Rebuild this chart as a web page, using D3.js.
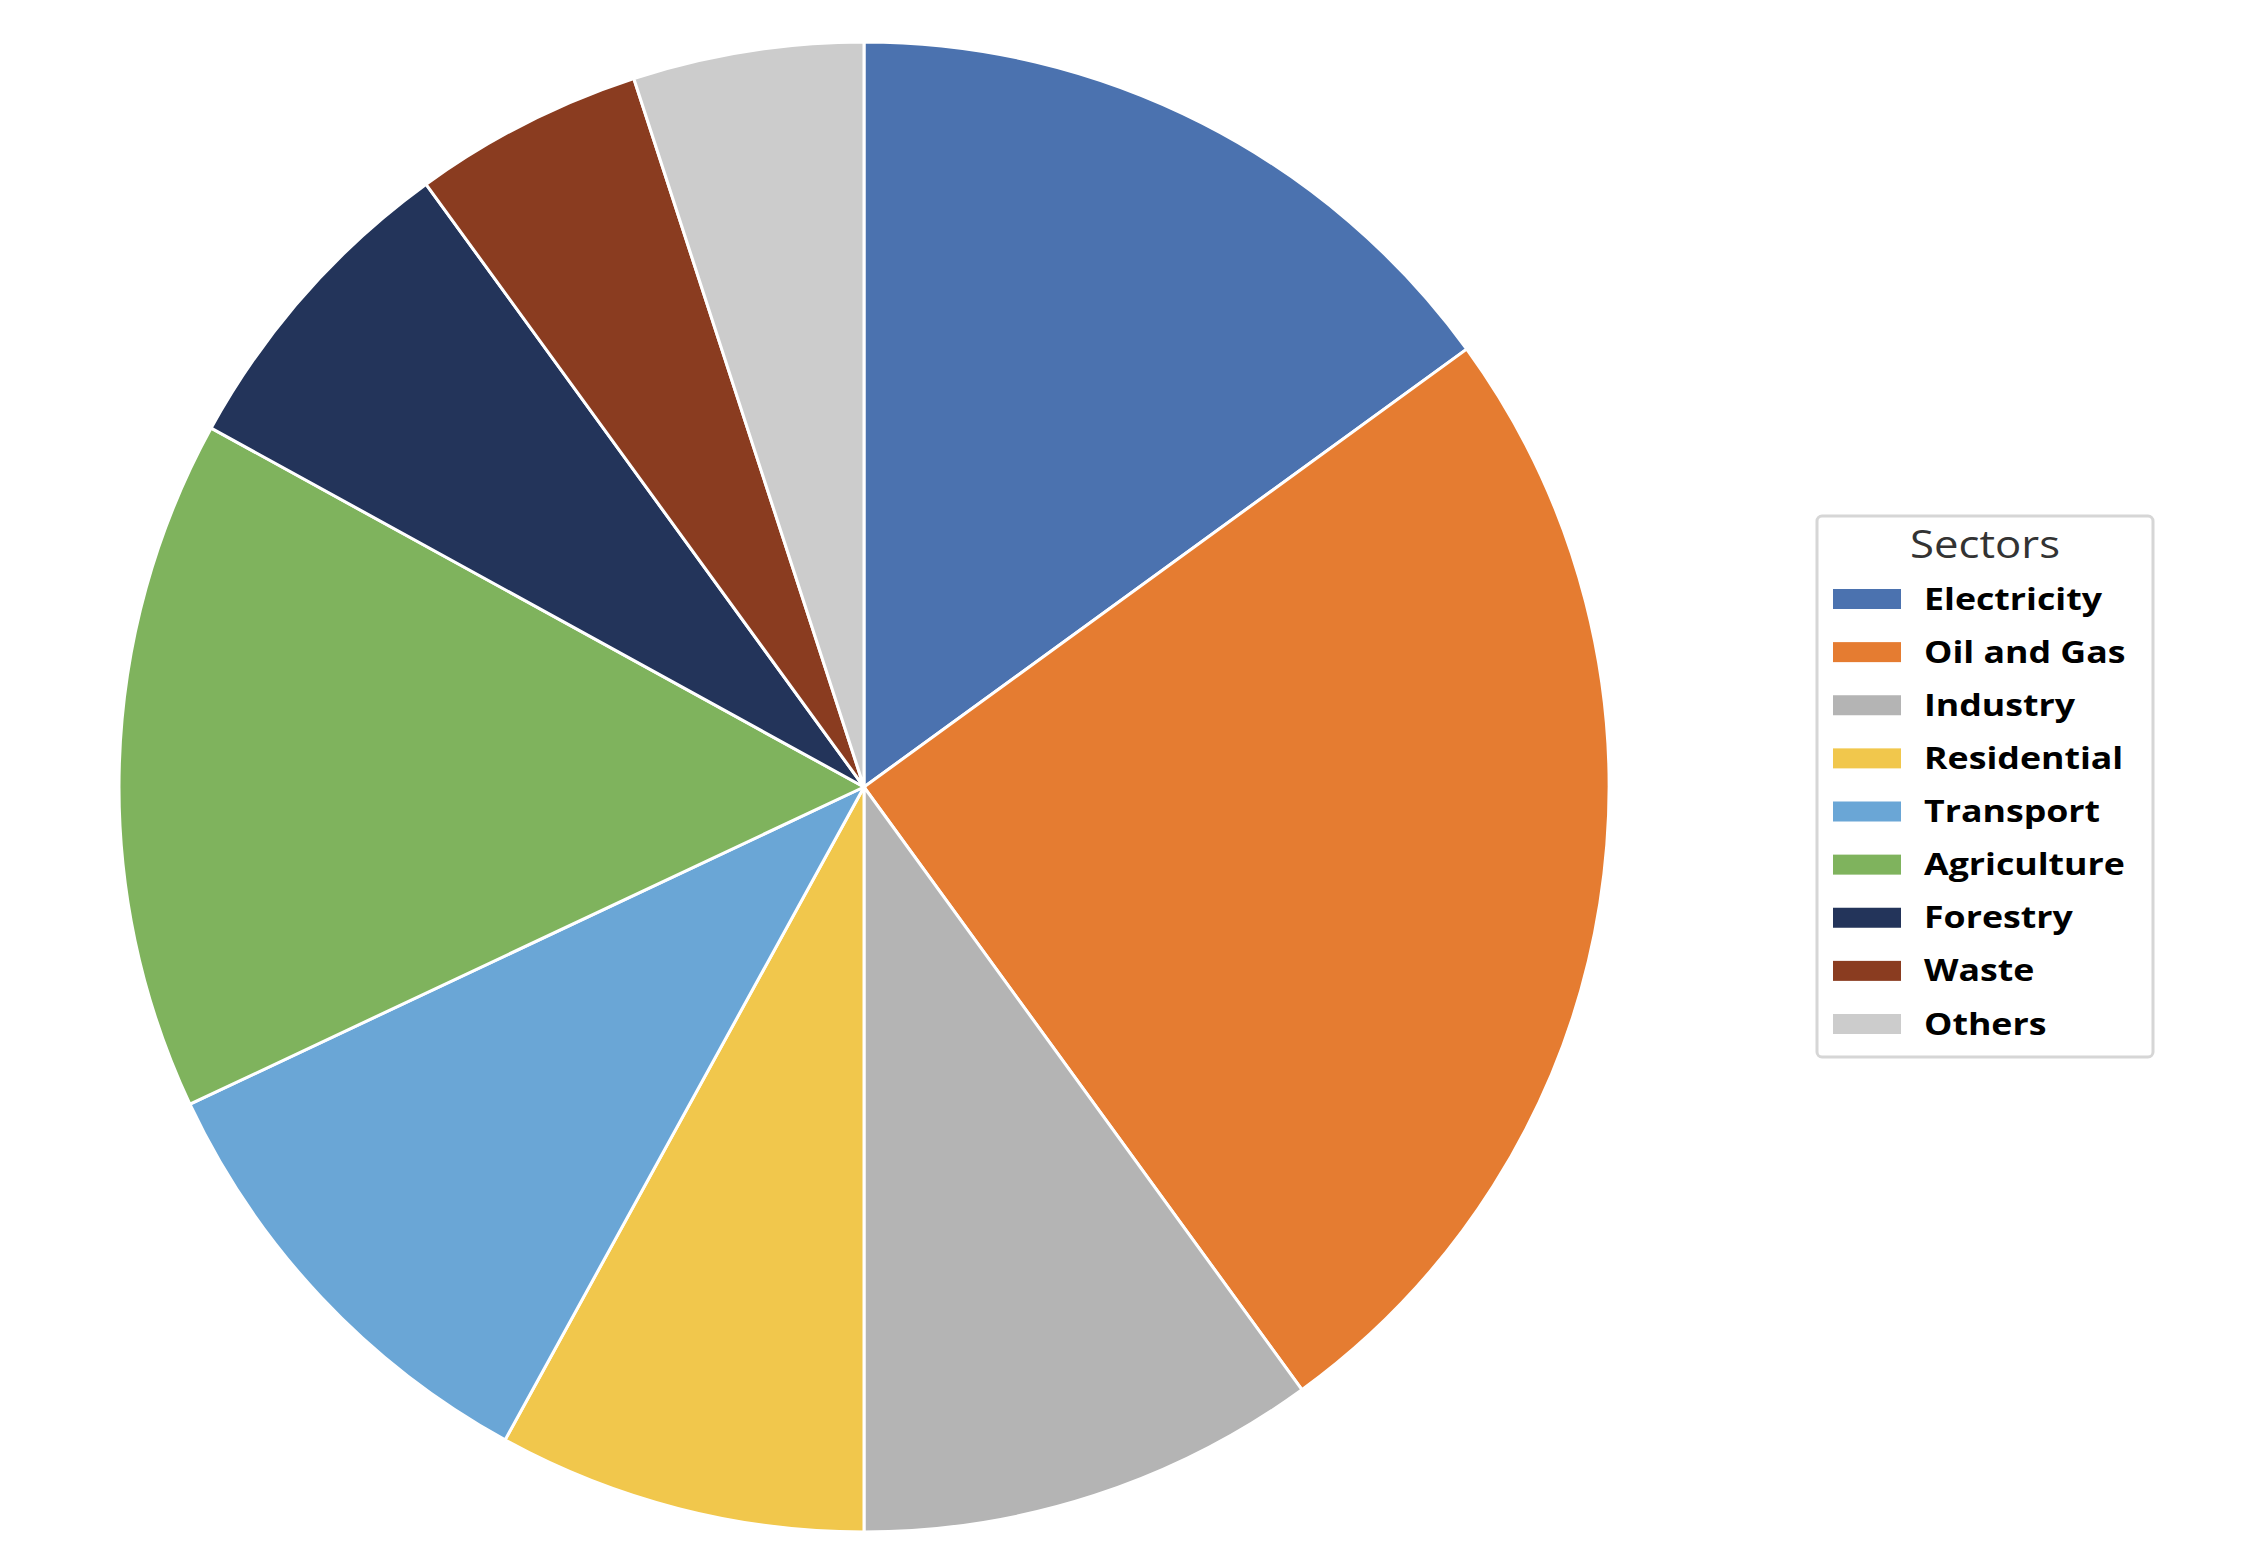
<!DOCTYPE html>
<html><head><meta charset="utf-8">
<script src="https://cdn.jsdelivr.net/npm/d3@7"></script>
<style>body{margin:0;background:#fff}</style>
</head><body>
<svg id="chart" width="2267" height="1565"></svg>
<script>
const categories = ["Electricity","Oil and Gas","Industry","Residential","Transport","Agriculture","Forestry","Waste","Others"];
const values = [15,25,10,8,10,15,7,5,5];
const colors = ["#4b72af","#e57c31","#b4b4b4","#f1c74c","#6aa6d6","#7fb35d","#23345a","#8a3c20","#cccccc"];
const legendTitle = "Sectors";

const svg = d3.select("#chart");
const cx = 864, cy = 787, r = 745;
const data = categories.map((c,i)=>({name:c, value:values[i], color:colors[i]}));
const pie = d3.pie().value(d=>d.value).sort(null);
const arc = d3.arc().innerRadius(0).outerRadius(r);
svg.append("g").attr("transform",`translate(${cx},${cy})`)
  .selectAll("path").data(pie(data)).join("path")
  .attr("d",arc).attr("fill",d=>d.data.color)
  .attr("stroke","#fff").attr("stroke-width",3);

const lg = svg.append("g");
lg.append("rect").attr("x",1817).attr("y",516).attr("width",336).attr("height",541)
  .attr("rx",5).attr("fill","#fff").attr("stroke","#d6d6d6").attr("stroke-width",3);
lg.append("text").attr("transform","translate(1985,558) scale(1.15,1)").attr("text-anchor","middle")
  .attr("font-family","Open Sans").attr("font-size",38).attr("fill","#333").text(legendTitle);
const rowY = d3.scalePoint().domain(categories).range([599,1024]);
const items = lg.selectAll("g.item").data(data).join("g").attr("class","item")
  .attr("transform",d=>`translate(0,${rowY(d.name)})`);
items.append("rect").attr("x",1833).attr("y",-10).attr("width",68).attr("height",20).attr("fill",d=>d.color);
items.append("text").attr("transform","translate(1924,0) scale(1.19,1)").attr("dy","0.35em")
  .attr("font-family","Open Sans").attr("font-weight","bold").attr("font-size",30).attr("fill","#000")
  .text(d=>d.name);
</script>
</body></html>
